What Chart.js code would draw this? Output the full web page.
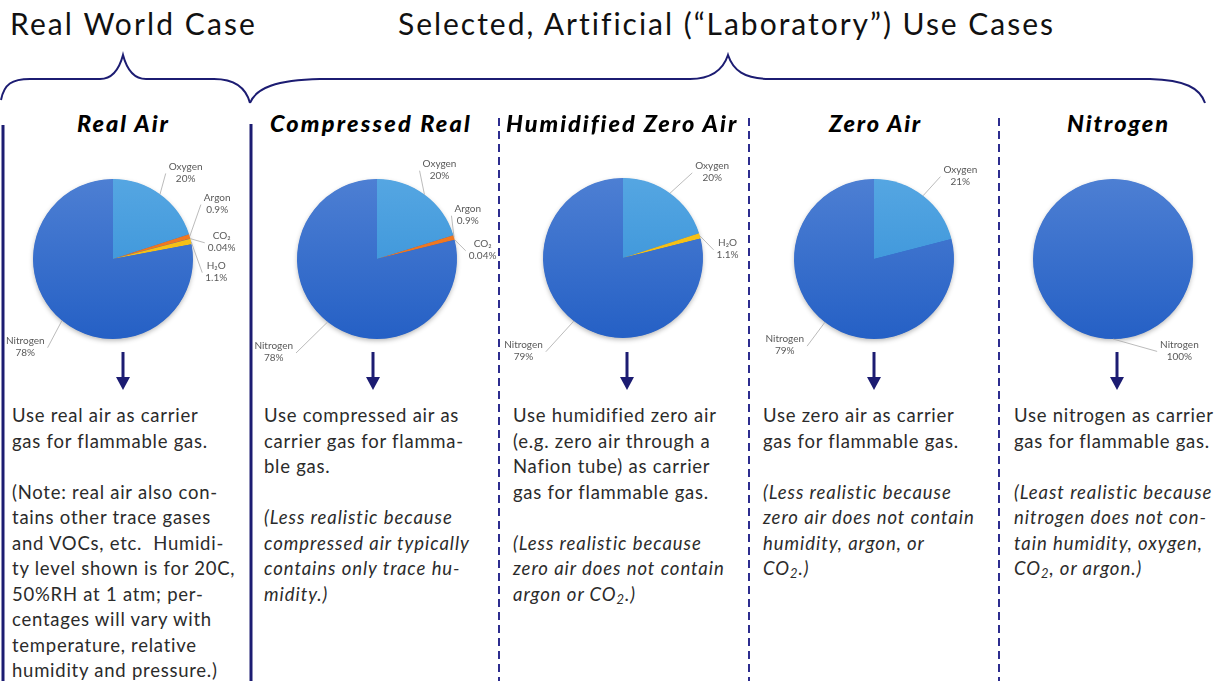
<!DOCTYPE html>
<html>
<head>
<meta charset="utf-8">
<script src="https://cdn.jsdelivr.net/npm/chart.js@4/dist/chart.umd.min.js"></script>
<style>
  body { margin: 0; width: 1226px; height: 681px; background: #fff; position: relative; overflow: hidden; font-family: Lato, "Open Sans", sans-serif; color: #262626; }
  .hdr { position: absolute; top: 5px; font-size: 30px; color: #111; white-space: nowrap; }
  .ttl { position: absolute; top: 109px; font-size: 23.5px; font-weight: 900; font-style: italic; color: #000; white-space: nowrap; }
  .pie { position: absolute; }
  .txt { position: absolute; top: 403px; font-size: 18.5px; line-height: 25.5px; letter-spacing: 0.75px; white-space: nowrap; color: #2b2b2b; }
  .txt i { letter-spacing: 0.95px; }
  .txt sub { font-size: 0.7em; line-height: 0; vertical-align: -0.25em; }
  svg { position: absolute; left: 0; top: 0; }
</style>
</head>
<body>
<svg id="deco" width="1226" height="681"></svg>
<div class="hdr" id="hdr1" style="left:10px">Real World Case</div>
<div class="hdr" id="hdr2" style="left:398px">Selected, Artificial (“Laboratory”) Use Cases</div>

<div id="cols"></div>

<script>
// Data
const realAirLabels = ['Oxygen', 'Argon', 'CO₂', 'H₂O', 'Nitrogen'];
const realAirValues = [20, 0.9, 0.04, 1.1, 78];

const compressedLabels = ['Oxygen', 'Argon', 'CO₂', 'Nitrogen'];
const compressedValues = [20, 0.9, 0.04, 78];

const humidifiedLabels = ['Oxygen', 'H₂O', 'Nitrogen'];
const humidifiedValues = [20, 1.1, 79];

const zeroAirLabels = ['Oxygen', 'Nitrogen'];
const zeroAirValues = [21, 79];

const nitrogenLabels = ['Nitrogen'];
const nitrogenValues = [100];

const columnTitles = ['Real Air', 'Compressed Real', 'Humidified Zero Air', 'Zero Air', 'Nitrogen'];

// colours per gas (top, bottom of gradient)
const gasColors = {
  'Nitrogen': ['#4d7fd3', '#2560c5'],
  'Oxygen': ['#55a6e2', '#2f8dd6'],
  'Argon': ['#f27d24', '#ec6f1a'],
  'CO₂': ['#d8601a', '#d8601a'],
  'H₂O': ['#f7c51c', '#f2b90c']
};

// layout of the columns (title span left/right, pie centre, text left)
const cols = [
  { cx: 113, cy: 259, t0: 77, t1: 170, arrowX: 123, textX: 12,
    spots: [{a: 40, d: 113}, {a: 62, d: 118}, {a: 81, d: 110}, {a: 97, d: 104}, {a: 225, d: 124}],
    text: 'Use real air as carrier<br>gas for flammable gas.<br><br>(Note: real air also con-<br>tains other trace gases<br>and VOCs, etc.&nbsp; Humidi-<br>ty level shown is for 20C,<br>50%RH at 1 atm; per-<br>centages will vary with<br>temperature, relative<br>humidity and pressure.)' },
  { cx: 377, cy: 259, t0: 270, t1: 472, arrowX: 373, textX: 264,
    spots: [{a: 35, d: 109}, {a: 64, d: 101}, {a: 85, d: 106}, {a: 228, d: 139}],
    text: 'Use compressed air as<br>carrier gas for flamma-<br>ble gas.<br><br><i>(Less realistic because<br>compressed air typically<br>contains only trace hu-<br>midity.)</i>' },
  { cx: 623, cy: 258, t0: 506, t1: 738, arrowX: 627, textX: 513,
    spots: [{a: 46, d: 124}, {a: 85, d: 105}, {a: 227, d: 136}],
    text: 'Use humidified zero air<br>(e.g. zero air through a<br>Nafion tube) as carrier<br>gas for flammable gas.<br><br><i>(Less realistic because<br>zero air does not contain<br>argon or CO<sub>2</sub>.)</i>' },
  { cx: 874, cy: 259, t0: 829, t1: 922, arrowX: 874, textX: 763,
    spots: [{a: 46, d: 120}, {a: 226, d: 124}],
    text: 'Use zero air as carrier<br>gas for flammable gas.<br><br><i>(Less realistic because<br>zero air does not contain<br>humidity, argon, or<br>CO<sub>2</sub>.)</i>' },
  { cx: 1113, cy: 259, t0: 1067, t1: 1170, arrowX: 1117, textX: 1014,
    spots: [{a: 144, d: 113}],
    text: 'Use nitrogen as carrier<br>gas for flammable gas.<br><br><i>(Least realistic because<br>nitrogen does not con-<br>tain humidity, oxygen,<br>CO<sub>2</sub>, or argon.)</i>' }
];

const pieData = [
  [realAirLabels, realAirValues],
  [compressedLabels, compressedValues],
  [humidifiedLabels, humidifiedValues],
  [zeroAirLabels, zeroAirValues],
  [nitrogenLabels, nitrogenValues]
];

const R = 80;
const W = 300, H = 260;

// stretch a one-line text to a given width with letter spacing
function fitWidth(el, target) {
  const n = el.textContent.length;
  const w = el.getBoundingClientRect().width;
  el.style.letterSpacing = ((target - w) / n) + 'px';
}

// braces, dividers and arrows
const svg = document.getElementById('deco');
const navy = '#1c1c72';
let s = '';
s += `<path d="M1,100 C4,84 12,79 30,79 L100,79 C112,79 119,70 123,55 C127,70 134,79 146,79 L214,79 C234,79 246,88 250,103" fill="none" stroke="${navy}" stroke-width="2"/>`;
s += `<path d="M250,103 C256,88 276,80 320,79 L690,79 C712,79 723,70 728,55 C733,70 744,79 770,79 L1150,79 C1185,80 1200,88 1205,103" fill="none" stroke="${navy}" stroke-width="2"/>`;
s += `<line x1="3" y1="125" x2="3" y2="681" stroke="${navy}" stroke-width="3"/>`;
s += `<line x1="251" y1="124" x2="251" y2="681" stroke="${navy}" stroke-width="3"/>`;
[499, 749, 999].forEach(x => {
  s += `<line x1="${x}" y1="118" x2="${x}" y2="681" stroke="#2d2d8f" stroke-width="2" stroke-dasharray="8,5"/>`;
});
cols.forEach(c => {
  s += `<line x1="${c.arrowX}" y1="352" x2="${c.arrowX}" y2="379" stroke="${navy}" stroke-width="3"/>`;
  s += `<polygon points="${c.arrowX - 7},377 ${c.arrowX + 7},377 ${c.arrowX},390" fill="${navy}"/>`;
});
svg.innerHTML = s;

fitWidth(document.getElementById('hdr1'), 247);
fitWidth(document.getElementById('hdr2'), 657);

// titles, text blocks, canvases
const colsEl = document.getElementById('cols');
cols.forEach((c, i) => {
  const t = document.createElement('div');
  t.className = 'ttl';
  t.style.left = c.t0 + 'px';
  t.textContent = columnTitles[i];
  colsEl.appendChild(t);
  fitWidth(t, c.t1 - c.t0);

  const tx = document.createElement('div');
  tx.className = 'txt';
  tx.style.left = c.textX + 'px';
  tx.innerHTML = c.text;
  colsEl.appendChild(tx);

  const cv = document.createElement('canvas');
  cv.className = 'pie';
  cv.id = 'pie' + i;
  cv.width = W; cv.height = H;
  cv.style.left = (c.cx - W / 2) + 'px';
  cv.style.top = (c.cy - H / 2) + 'px';
  colsEl.appendChild(cv);
});

function fmtPct(v) { return v + '%'; }

// soft shadow under the pie
const pieShadow = {
  id: 'pieShadow',
  beforeDatasetsDraw(chart) {
    const arc = chart.getDatasetMeta(0).data[0];
    const ctx = chart.ctx;
    ctx.save();
    ctx.shadowColor = 'rgba(0,0,0,0.3)';
    ctx.shadowBlur = 5;
    ctx.shadowOffsetY = 2;
    ctx.fillStyle = '#2f67c9';
    ctx.beginPath();
    ctx.arc(arc.x, arc.y, arc.outerRadius - 0.5, 0, Math.PI * 2);
    ctx.fill();
    ctx.restore();
  }
};

// leader lines and labels
const callouts = {
  id: 'callouts',
  afterDatasetsDraw(chart, args, opts) {
    const ctx = chart.ctx;
    const meta = chart.getDatasetMeta(0);
    const values = chart.data.datasets[0].data;
    ctx.save();
    ctx.font = '10px Lato';
    ctx.textAlign = 'center';
    ctx.textBaseline = 'middle';
    meta.data.forEach((arc, i) => {
      const sp = opts.spots[i];
      const mid = (arc.startAngle + arc.endAngle) / 2;
      const ex = arc.x + Math.cos(mid) * arc.outerRadius;
      const ey = arc.y + Math.sin(mid) * arc.outerRadius;
      const a = (sp.a - 90) * Math.PI / 180;
      const tx = arc.x + Math.cos(a) * sp.d;
      const ty = arc.y + Math.sin(a) * sp.d;
      const lines = [chart.data.labels[i], fmtPct(values[i])];
      const w = Math.max(...lines.map(l => ctx.measureText(l).width));
      const right = tx > arc.x;
      const lx = right ? tx - w / 2 - 3 : tx + w / 2 + 3;
      const ly = ty + 1;
      ctx.strokeStyle = '#a9a9a9';
      ctx.lineWidth = 0.8;
      ctx.beginPath();
      ctx.moveTo(ex, ey);
      ctx.lineTo(lx, ly);
      ctx.stroke();
      ctx.fillStyle = '#595959';
      ctx.fillText(lines[0], tx, ty - 6);
      ctx.fillText(lines[1], tx, ty + 6);
    });
    ctx.restore();
  }
};

function sliceColor(context) {
  const chart = context.chart;
  const label = chart.data.labels[context.dataIndex];
  const pair = gasColors[label];
  const area = chart.chartArea;
  if (!area) return pair[0];
  const cy = (area.top + area.bottom) / 2;
  const g = chart.ctx.createLinearGradient(0, cy - R, 0, cy + R);
  g.addColorStop(0, pair[0]);
  g.addColorStop(1, pair[1]);
  return g;
}

pieData.forEach(([labels, values], i) => {
  new Chart(document.getElementById('pie' + i), {
    type: 'pie',
    data: {
      labels: labels,
      datasets: [{
        data: values,
        backgroundColor: sliceColor,
        borderWidth: 0
      }]
    },
    options: {
      responsive: false,
      animation: false,
      radius: R,
      layout: { padding: 0 },
      plugins: {
        legend: { display: false },
        tooltip: { enabled: false },
        callouts: { spots: cols[i].spots }
      }
    },
    plugins: [pieShadow, callouts]
  });
});
</script>
</body>
</html>
